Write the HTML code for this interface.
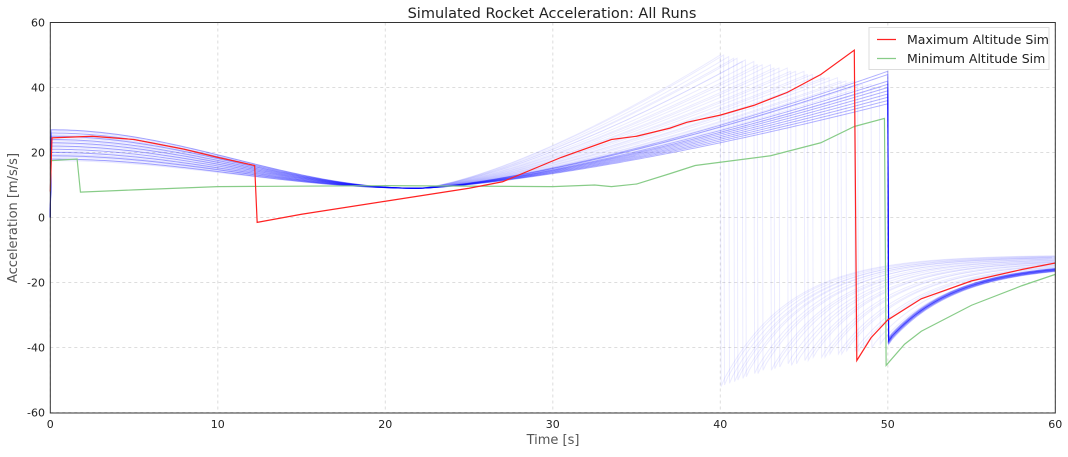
<!DOCTYPE html>
<html><head><meta charset="utf-8"><style>
body{margin:0;background:#fff;font-family:"Liberation Sans","DejaVu Sans",sans-serif}
svg text{font-family:"DejaVu Sans","Liberation Sans",sans-serif}
</style></head><body>
<svg id="chart" width="1068" height="452" xmlns="http://www.w3.org/2000/svg">
<rect width="1068" height="452" fill="#fff"/>
<text x="552" y="18" font-size="14.5" text-anchor="middle" fill="#222">Simulated Rocket Acceleration: All Runs</text>
<g id="grid"></g>
<g id="runs"></g>
<g id="series"></g>
<rect x="50.3" y="22.5" width="1005" height="390.5" fill="none" stroke="#333" stroke-width="1"/>
<g id="ticks"></g>
<text x="553" y="444" font-size="13" text-anchor="middle" fill="#555">Time [s]</text>
<text x="17" y="218" font-size="13" text-anchor="middle" fill="#555" transform="rotate(-90 17 218)">Acceleration [m/s/s]</text>
<g>
<rect x="869" y="27.5" width="180" height="42" fill="#fff" stroke="#ddd" stroke-width="1"/>
<line x1="877" y1="39.5" x2="896" y2="39.5" stroke="#f22" stroke-width="1.2"/>
<text x="907" y="44" font-size="12.5" fill="#222">Maximum Altitude Sim</text>
<line x1="877" y1="58.5" x2="896" y2="58.5" stroke="#8c8" stroke-width="1.2"/>
<text x="907" y="63" font-size="12.5" fill="#222">Minimum Altitude Sim</text>
</g>
</svg>
<script>
const xTicks=[0,10,20,30,40,50,60];
const yTicks=[-60,-40,-20,0,20,40,60];
const maxT=[0,0.1,2.5,5,8,10,12.2,12.35,15,20,25,27,30.5,33.5,35,37,38,40,42,44,46,48,48.15,49,50,52,55,58,60];
const maxA=[8,24.5,25,24,21,18.5,16,-1.5,1,5,9,11,18.5,24,25,27.5,29.3,31.5,34.5,38.5,44,51.5,-44,-37,-31.5,-25,-19.5,-16,-14];
const minT=[0,0.05,1.6,1.8,5,10,20,30,32.5,33.5,35,37,38.5,40,43,46,48,49.8,49.9,51,52,55,58,60];
const minA=[17.5,17.5,18,7.8,8.5,9.5,9.8,9.5,10,9.5,10.3,13.5,16,17,19,23,28,30.5,-45.5,-39,-35,-27,-21,-17.5];
// per-run parameters (estimated)
const runA0=[27,26.5,26,25.5,25,24.5,24,23.5,23,22.5,22,21.5,21,20.5,20,19.5,19,18.5,18,17.5,27,25,23,21,19,26,24,22,20,18,26.8,25.3,23.7,21.8,20.2,18.8,17.8,24.8,22.8,19.3];
const runTb=[40,40.5,41,41.5,42,42.5,43,43.5,44,44.5,45,45.5,46,46.5,47,47.5,48,48.5,49,49.5,50,50,50,50,50,50,50,50,50,50,40.2,40.8,41.3,42.2,43.2,44.2,45.2,46.2,47.2,48.2];
const runPeak=[50,49.5,49,48.5,48,47,47,46,46,45,45,44,44,43,43,42,42,41,41,40,45,42,40,38,36,44,41,39,37,35,50,49,48,47,46,45,44,43,42,41];
const runMin=[-52,-51,-50,-49,-48,-47,-47,-46,-45,-45,-44,-43,-43,-42,-42,-41,-41,-40,-40,-39,-38.5,-38,-38,-38,-37.5,-39,-38.5,-38,-37.5,-37,-51.5,-50.5,-49.5,-48,-46.5,-45.5,-44,-43,-42,-41];
const runEnd=[-11.5,-11.7,-11.8,-12,-12,-12.2,-12.3,-12.5,-12.6,-12.8,-13,-13,-13.2,-13.3,-13.5,-13.6,-13.8,-14,-14,-14.2,-14.5,-14.3,-14.1,-14,-13.8,-14.6,-14.4,-14.2,-14,-13.8,-11.6,-11.9,-12.1,-12.4,-12.7,-12.9,-13.1,-13.4,-13.7,-13.9];
const X=t=>50.3+t*16.75, Y=a=>217.5-a*3.25;
const NS="http://www.w3.org/2000/svg";
function mk(tag,attrs,parent){const e=document.createElementNS(NS,tag);for(const k in attrs)e.setAttribute(k,attrs[k]);parent.appendChild(e);return e;}
const grid=document.getElementById('grid'),ticks=document.getElementById('ticks');
xTicks.forEach(v=>{
 const g=mk('line',{x1:X(v),x2:X(v),y1:22.5,y2:413,stroke:'#ddd','stroke-dasharray':'3,3'},grid);
 
 
 const t=mk('text',{x:X(v),y:428,'font-size':11,'text-anchor':'middle',fill:'#222'},ticks);t.textContent=v;
 
 
});
yTicks.forEach(v=>{
 const g=mk('line',{x1:50.3,x2:1055.3,y1:Y(v),y2:Y(v),stroke:'#ddd','stroke-dasharray':'3,3'},grid);
 
 
 const t=mk('text',{x:45,y:Y(v)+4,'font-size':11,'text-anchor':'end',fill:'#222'},ticks);t.textContent=v;
 
 
});
const runs=document.getElementById('runs');
for(let i=0;i<runA0.length;i++){
 const a0=runA0[i],tb=runTb[i],pk=runPeak[i],mn=runMin[i],en=runEnd[i];
 let d='M'+X(0)+','+Y(0)+' L'+X(0.05)+','+Y(a0);
 for(let t=0.25;t<=tb;t+=0.25){
  let a;
  if(t<22)a=9+(a0-9)*(1+Math.cos(Math.PI*t/22))/2;
  else a=9+(pk-9)*Math.pow((t-22)/(tb-22),1.4);
  d+=' L'+X(t)+','+Y(a);
 }
 d+=' L'+X(tb)+','+Y(pk)+' L'+X(tb+0.05)+','+Y(mn);
 for(let t=tb+0.25;t<=60.01;t+=0.25){d+=' L'+X(t)+','+Y(en+(mn-en)*Math.exp(-(t-tb)/4));}
 const strong=tb>=50;
 const p=mk('path',{d:d,fill:'none',stroke:'#00f','stroke-width':1,'stroke-opacity':strong?0.3:0.08},runs);
 
 
}
const series=document.getElementById('series');
function line(T,A,color,name){
 const d=T.map((t,i)=>(i?'L':'M')+X(t)+','+Y(A[i])).join(' ');
 const p=mk('path',{d:d,fill:'none',stroke:color,'stroke-width':1.2},series);
 
 
}
line(minT,minA,'#8c8','min-altitude-line');
line(maxT,maxA,'#f22','max-altitude-line');
</script>
</body></html>
